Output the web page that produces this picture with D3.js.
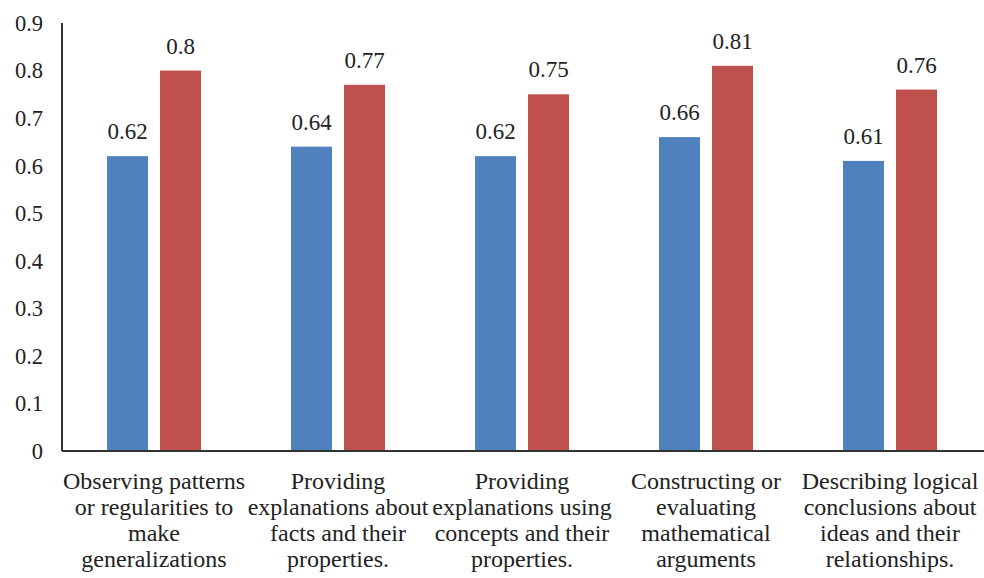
<!DOCTYPE html>
<html><head><meta charset="utf-8">
<script src="https://cdn.jsdelivr.net/npm/d3@7"></script>
<style>body{margin:0;background:#fff}svg{display:block}</style>
</head><body>
<svg id="c" width="984" height="578"></svg>
<script>
const categories = [
  ["Observing patterns","or regularities to","make","generalizations"],
  ["Providing","explanations about","facts and their","properties."],
  ["Providing","explanations using","concepts and their","properties."],
  ["Constructing or","evaluating","mathematical","arguments"],
  ["Describing logical","conclusions about","ideas and their","relationships."]
];
const seriesA = [0.62, 0.64, 0.62, 0.66, 0.61];
const seriesB = [0.8, 0.77, 0.75, 0.81, 0.76];
const yTicks = [0,0.1,0.2,0.3,0.4,0.5,0.6,0.7,0.8,0.9];
const colors = ["#4F81BD", "#C0504D"];

const svg = d3.select("#c");
const font = "'Liberation Serif','Times New Roman',serif";
const x0 = 62, x1 = 982, yBottom = 451, yTop = 23;
const y = d3.scaleLinear().domain([0,0.9]).range([yBottom, yTop]);
const x = d3.scaleBand().domain(d3.range(categories.length)).range([x0, x1]).paddingInner(0).paddingOuter(0);
const barW = 41, gap = 12;

// y tick labels
svg.append("g").selectAll("text").data(yTicks).join("text")
  .attr("x", 43).attr("y", d => y(d)).attr("dy", "0.35em")
  .attr("text-anchor", "end").attr("font-family", font).attr("font-size", 22.5).attr("fill", "#222")
  .text(d => d === 0 ? "0" : d3.format(".1f")(d));

const series = [seriesA, seriesB];
series.forEach((vals, si) => {
  const g = svg.append("g");
  g.selectAll("rect").data(vals).join("rect")
    .attr("x", (d,i) => x(i) + x.bandwidth()/2 - barW - gap/2 + si*(barW+gap))
    .attr("width", barW)
    .attr("y", d => y(d))
    .attr("height", d => yBottom - y(d))
    .attr("fill", colors[si]);
  g.selectAll("text").data(vals).join("text")
    .attr("x", (d,i) => x(i) + x.bandwidth()/2 - barW/2 - gap/2 + si*(barW+gap))
    .attr("y", d => y(d) - 17)
    .attr("text-anchor", "middle").attr("font-family", font).attr("font-size", 23).attr("fill", "#222")
    .text(d => String(d));
});

// axes lines
svg.append("line").attr("x1", x0).attr("x2", x0).attr("y1", yTop).attr("y2", yBottom).attr("stroke", "#333").attr("stroke-width", 2);
svg.append("line").attr("x1", x0).attr("x2", x1+2).attr("y1", yBottom).attr("y2", yBottom).attr("stroke", "#333").attr("stroke-width", 2);

// category labels
const cg = svg.append("g");
categories.forEach((lines, i) => {
  const t = cg.append("text").attr("text-anchor", "middle").attr("font-family", font).attr("font-size", 24).attr("fill", "#222");
  lines.forEach((ln, j) => {
    t.append("tspan").attr("x", x(i) + x.bandwidth()/2).attr("y", 489 + j*26).text(ln);
  });
});
</script>
</body></html>
